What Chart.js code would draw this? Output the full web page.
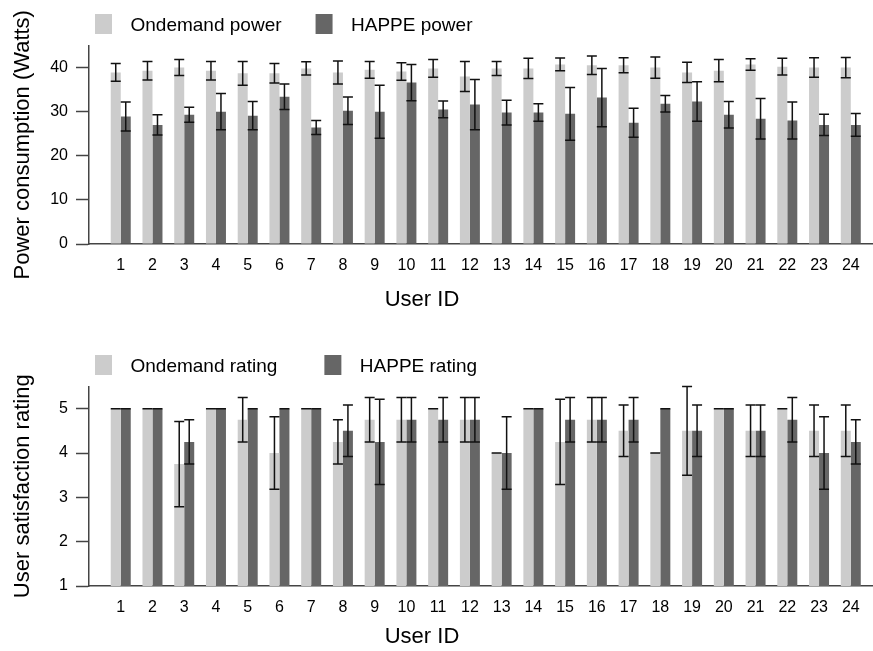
<!DOCTYPE html>
<html><head><meta charset="utf-8">
<script src="https://cdn.jsdelivr.net/npm/chart.js@4.4.1/dist/chart.umd.min.js"></script>
<style>
html,body{margin:0;padding:0;background:#fff;}
#wrap{position:relative;width:873px;height:651px;overflow:hidden;background:#fff;}
.box{position:absolute;left:0;width:873px;}
canvas{display:block;}
</style></head><body>
<div id="wrap">
<div class="box" style="top:0;height:325px"><canvas id="c1" width="873" height="325"></canvas></div>
<div class="box" style="top:336px;height:315px"><canvas id="c2" width="873" height="315"></canvas></div>
</div>
<script>
// ---- data ----
const userIds = [1,2,3,4,5,6,7,8,9,10,11,12,13,14,15,16,17,18,19,20,21,22,23,24];
const powerTicks = [0,10,20,30,40];
const ratingTicks = [1,2,3,4,5];
const powerSeriesNames = ["Ondemand power", "HAPPE power"];
const ratingSeriesNames = ["Ondemand rating", "HAPPE rating"];

const ondemandPower    = [38.9,39.3,40.0,39.3,38.7,38.7,39.8,38.9,39.5,39.1,39.8,38.0,39.8,39.8,40.7,40.5,40.5,40.0,38.9,39.3,40.7,40.2,40.0,40.0];
const ondemandPowerErr = [2.0,2.1,1.8,2.1,2.7,2.2,1.5,2.6,1.9,2.0,2.0,3.4,1.6,2.3,1.45,2.1,1.7,2.4,2.3,2.5,1.3,1.9,2.2,2.3];
const happePower       = [28.9,27.0,29.3,30.0,29.1,33.4,26.4,30.2,30.0,36.6,30.5,31.6,29.8,29.8,29.5,33.2,27.5,31.8,32.3,29.3,28.4,28.0,27.0,27.0];
const happePowerErr    = [3.3,2.3,1.7,4.1,3.2,2.9,1.6,3.1,6.0,4.1,1.9,5.7,2.8,2.0,6.0,6.6,3.3,1.85,4.5,3.0,4.6,4.2,2.4,2.6];

const ondemandRating    = [5,5,3.75,5,4.75,4,5,4.25,4.75,4.75,5,4.75,4,5,4.25,4.75,4.5,4,4.5,5,4.5,5,4.5,4.5];
const ondemandRatingErr = [0,0,0.96,0,0.5,0.82,0,0.5,0.5,0.5,0,0.5,0,0,0.96,0.5,0.58,0,1.0,0,0.58,0,0.58,0.58];
const happeRating       = [5,5,4.25,5,5,5,5,4.5,4.25,4.75,4.75,4.75,4,5,4.75,4.75,4.75,5,4.5,5,4.5,4.75,4,4.25];
const happeRatingErr    = [0,0,0.5,0,0,0,0,0.58,0.96,0.5,0.5,0.5,0.82,0,0.5,0.5,0.5,0,0.58,0,0.58,0.5,0.82,0.5];

// ---- styling ----
const FONT = "'Liberation Sans', Arial, Helvetica, sans-serif";
const LIGHT = '#cccccc', DARK = '#666666', AXIS = '#444444', TEXT = '#000000';
Chart.defaults.font.family = FONT;

function swatch(color, fillLeft) {
  const c = document.createElement('canvas');
  c.width = 48; c.height = 26;
  const g = c.getContext('2d');
  g.fillStyle = color;
  g.fillRect(fillLeft, 1, 17, 20);
  return c;
}

const errorBars = {
  id: 'errorBars',
  afterDatasetsDraw(chart, args, opts) {
    const ctx = chart.ctx, ys = chart.scales.y;
    ctx.save();
    ctx.strokeStyle = opts.color;
    ctx.lineWidth = opts.width;
    chart.data.datasets.forEach((ds, d) => {
      const meta = chart.getDatasetMeta(d);
      meta.data.forEach((bar, i) => {
        const p = bar.getProps(['x', 'width'], true);
        const v = ds.data[i].y, e = ds.errors[i];
        const hi = ys.getPixelForValue(v + e), lo = ys.getPixelForValue(v - e);
        const half = p.width / 2;
        ctx.beginPath();
        ctx.moveTo(p.x, hi); ctx.lineTo(p.x, lo);
        ctx.moveTo(p.x - half, hi); ctx.lineTo(p.x + half, hi);
        ctx.moveTo(p.x - half, lo); ctx.lineTo(p.x + half, lo);
        ctx.stroke();
      });
    });
    ctx.restore();
  }
};

// moves the (full-width) legend box so its items start where the original's do
const legendOffset = {
  id: 'legendOffset',
  afterLayout(chart, args, opts) {
    if (chart.legend) chart.legend.left = opts.left;
  }
};

const xTitle = {
  id: 'xTitle',
  afterDraw(chart, args, opts) {
    const ctx = chart.ctx, a = chart.chartArea;
    ctx.save();
    ctx.font = opts.size + 'px ' + FONT;
    ctx.fillStyle = TEXT;
    ctx.textAlign = 'center';
    ctx.textBaseline = 'middle';
    ctx.fillText(opts.text, a.left + opts.dx, a.bottom + opts.dy);
    ctx.restore();
  }
};

function build(id, cfg) {
  const swatches = [swatch(LIGHT, cfg.fillLeft), swatch(DARK, cfg.fillLeft)];
  return new Chart(document.getElementById(id), {
    type: 'bar',
    data: {
      datasets: [
        { label: cfg.names[0], data: userIds.map((u, i) => ({x: u, y: cfg.a[i]})), errors: cfg.aErr, backgroundColor: LIGHT },
        { label: cfg.names[1], data: userIds.map((u, i) => ({x: u, y: cfg.b[i]})), errors: cfg.bErr, backgroundColor: DARK }
      ]
    },
    options: {
      responsive: false, animation: false, devicePixelRatio: 1, events: [],
      layout: { padding: { left: 0, top: cfg.t, right: 0, bottom: 0 } },
      datasets: { bar: { categoryPercentage: 0.63, barPercentage: 1, borderWidth: 0 } },
      scales: {
        x: {
          type: 'linear', min: 0, max: 24.7, offset: false,
          afterBuildTicks: s => { s.ticks = userIds.map(v => ({value: v})); },
          afterFit: s => { s.height = cfg.xH; },
          grid: { display: false, drawTicks: false },
          border: { display: true, color: AXIS, width: 1.5 },
          ticks: { font: { size: 16 }, color: TEXT, padding: 12, maxRotation: 0, autoSkip: false }
        },
        y: {
          min: cfg.yMin, max: cfg.yMax,
          afterBuildTicks: s => { s.ticks = cfg.yTicks.map(v => ({value: v})); },
          afterFit: s => { s.width = 89; },
          grid: { drawOnChartArea: false, drawTicks: true, tickLength: 13, tickColor: AXIS, tickWidth: 1.5 },
          border: { display: true, color: AXIS, width: 1.5 },
          ticks: { font: { size: 16 }, color: TEXT, padding: 8 },
          title: { display: true, text: cfg.yTitle, font: { size: 22 }, color: TEXT, padding: { top: 9.3, bottom: 0 } }
        }
      },
      plugins: {
        legend: {
          display: true, position: 'top', align: 'start',
          labels: {
            usePointStyle: true, pointStyleWidth: cfg.W, padding: cfg.p,
            font: { size: 19 }, color: TEXT,
            generateLabels: chart => {
              const items = Chart.defaults.plugins.legend.labels.generateLabels(chart);
              items.forEach((it, i) => { it.pointStyle = swatches[i]; it.fontColor = TEXT; });
              return items;
            }
          }
        },
        legendOffset: { left: cfg.L },
        tooltip: { enabled: false },
        errorBars: { color: '#111111', width: 1.5 },
        xTitle: { text: 'User ID', size: 22, dx: 333, dy: cfg.xTitleDy }
      }
    },
    plugins: [legendOffset, errorBars, xTitle]
  });
}

build('c1', {
  names: powerSeriesNames, a: ondemandPower, aErr: ondemandPowerErr, b: happePower, bErr: happePowerErr,
  yMin: 0, yMax: 45, yTicks: powerTicks, yTitle: 'Power consumption (Watts)',
  L: 61, t: 6.5, p: 10, W: 50, fillLeft: 23, xH: 81, xTitleDy: 56
});
build('c2', {
  names: ratingSeriesNames, a: ondemandRating, aErr: ondemandRatingErr, b: happeRating, bErr: happeRatingErr,
  yMin: 1, yMax: 5.5, yTicks: ratingTicks, yTitle: 'User satisfaction rating',
  L: 48, t: 12.5, p: 9, W: 64, fillLeft: 30, xH: 65, xTitleDy: 51
});
</script>
</body></html>
